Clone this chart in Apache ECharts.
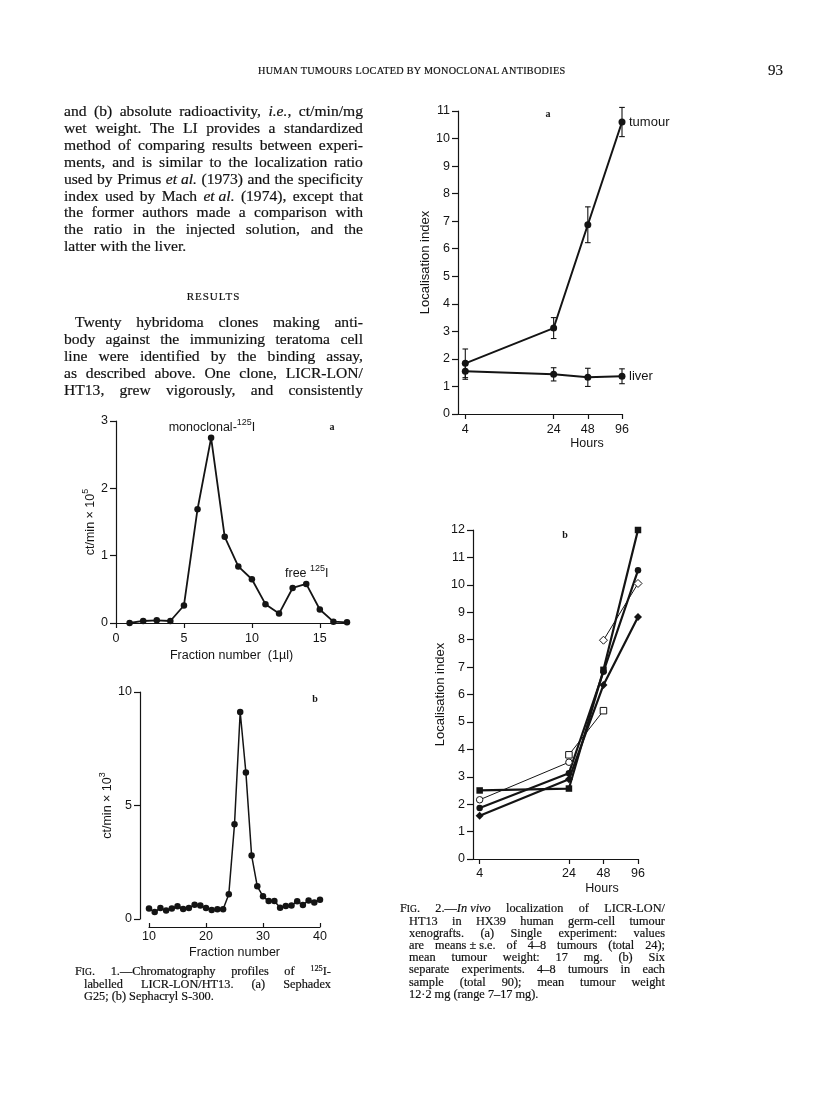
<!DOCTYPE html>
<html><head><meta charset="utf-8">
<script src="https://cdn.jsdelivr.net/npm/echarts@6/dist/echarts.min.js"></script>
<style>
html,body{margin:0;padding:0;background:#fff;}
#page{position:relative;width:816px;height:1115px;overflow:hidden;background:#fff;}
#chart{position:absolute;left:0;top:0;width:816px;height:1115px;}
.t{position:absolute;font-family:"Liberation Serif","Times New Roman",serif;color:#111;-webkit-text-stroke:0.2px #111;}
.ln{white-space:nowrap;}
.fl{display:flex;justify-content:space-between;}
.body{left:64px;width:299px;font-size:15.6px;line-height:16.9px;}
.cap{font-size:12.3px;line-height:12.1px;}
small{font-size:0.78em;}
sup{font-size:0.68em;line-height:0;vertical-align:0.45em;}
</style></head>
<body>
<div id="page">
<div id="chart"></div>
<div class="t" style="left:258px;top:65px;font-size:10.2px;letter-spacing:0.3px;">HUMAN TUMOURS LOCATED BY MONOCLONAL ANTIBODIES</div>
<div class="t" style="left:768px;top:62px;font-size:15px;">93</div>
<div class="t body" id="p1" style="top:103px;"></div>
<div class="t" style="left:64px;width:299px;top:290px;text-align:center;font-size:11px;letter-spacing:1px;">RESULTS</div>
<div class="t body" id="p2" style="top:314px;"></div>
<div class="t cap" id="c1" style="left:75px;width:256px;top:965px;"></div>
<div class="t cap" id="c2" style="left:400px;width:265px;top:902px;"></div>
</div>
<script>
// ---------- data ----------
const fractionsA = [1,2,3,4,5,6,7,8,9,10,11,12,13,14,15,16,17];
const countsA = [0.00,0.03,0.04,0.03,0.26,1.69,2.75,1.28,0.84,0.65,0.28,0.14,0.52,0.58,0.20,0.02,0.01];
const fractionsB = [10,11,12,13,14,15,16,17,18,19,20,21,22,23,24,25,26,27,28,29,30,31,32,33,34,35,36,37,38,39,40];
const countsB = [0.46,0.31,0.48,0.37,0.46,0.56,0.44,0.48,0.63,0.59,0.48,0.40,0.43,0.43,1.09,4.17,9.12,6.45,2.80,1.44,1.00,0.79,0.79,0.50,0.57,0.60,0.78,0.62,0.82,0.73,0.85];
const hours = [4,24,48,96];
const tumourMean = [1.84,3.12,6.87,10.60];
const tumourErr = [0.52,0.38,0.65,0.53];
const liverMean = [1.55,1.44,1.33,1.37];
const liverErr = [0.29,0.24,0.33,0.27];
const expFilledSquare = [2.50,2.57,6.90,12.00];
const expFilledCircle = [1.86,3.13,6.83,10.53];
const expFilledDiamond = [1.58,2.91,6.35,8.83];
const expOpenCircle = [2.16,3.53,null,null];
const expOpenSquare = [null,3.80,5.41,null];
const expOpenDiamond = [null,null,7.98,10.05];
const fractionTicksA = [0,5,10,15];

// ---------- text ----------
const para1 = [
 "and (b) absolute radioactivity, <i>i.e.</i>, ct/min/mg",
 "wet weight. The LI provides a standardized",
 "method of comparing results between experi-",
 "ments, and is similar to the localization ratio",
 "used by Primus <i>et&nbsp;al.</i> (1973) and the specificity",
 "index used by Mach <i>et&nbsp;al.</i> (1974), except that",
 "the former authors made a comparison with",
 "the ratio in the injected solution, and the",
 "latter with the liver."
];
const para2 = [
 "Twenty hybridoma clones making anti-",
 "body against the immunizing teratoma cell",
 "line were identified by the binding assay,",
 "as described above. One clone, LICR-LON/",
 "HT13, grew vigorously, and consistently"
];
const cap1 = [
 "F<small>IG</small>. 1.—Chromatography profiles of <sup>125</sup>I-",
 "labelled LICR-LON/HT13. (a) Sephadex",
 "G25; (b) Sephacryl S-300."
];
const cap2 = [
 "F<small>IG</small>. 2.—<i>In&nbsp;vivo</i> localization of LICR-LON/",
 "HT13 in HX39 human germ-cell tumour",
 "xenografts. (a) Single experiment: values",
 "are means&nbsp;±&nbsp;s.e. of 4–8 tumours (total 24);",
 "mean tumour weight: 17 mg. (b) Six",
 "separate experiments. 4–8 tumours in each",
 "sample (total 90); mean tumour weight",
 "12·2 mg (range 7–17 mg)."
];
function fill(id, lines, lastJustify, indentFirst, indentRest){
  const box = document.getElementById(id);
  lines.forEach((l,i)=>{
    const d = document.createElement('div');
    d.className = 'ln';
    const ind = i===0 ? (indentFirst||0) : (indentRest||0);
    d.style.marginLeft = ind+'px';
    const just = (i < lines.length-1) || lastJustify;
    if (just){
      d.classList.add('fl');
      l.split(' ').forEach(w=>{const s=document.createElement('span'); s.innerHTML=w; d.appendChild(s);});
    } else d.innerHTML = l;
    box.appendChild(d);
  });
}
fill('p1', para1, false, 0, 0);
fill('p2', para2, true, 11, 0);
fill('c1', cap1, false, 0, 9);
fill('c2', cap2, false, 0, 9);

// ---------- chart ----------
const ink = '#141414';
const sans = 'Liberation Sans, Arial, sans-serif';
const serif = 'Liberation Serif, serif';
function axisCommon(extra){
  const base = {
    axisLine:{show:true,onZero:false,lineStyle:{color:ink,width:1.2}},
    axisTick:{show:true,inside:false,length:5,lineStyle:{color:ink,width:1.2}},
    axisLabel:{color:ink,fontFamily:sans,fontSize:12.5,margin:8},
    splitLine:{show:false},
    minorTick:{show:false},
    nameTextStyle:{color:ink,fontFamily:sans,fontSize:12.5}
  };
  for (const k in extra){
    if (base[k] && typeof base[k]==='object' && !Array.isArray(base[k])) base[k] = Object.assign({}, base[k], extra[k]);
    else base[k] = extra[k];
  }
  return base;
}
const supRich = {
  n:{color:ink,fill:ink,fontFamily:sans,fontSize:12.5,lineHeight:16,verticalAlign:'bottom'},
  s:{color:ink,fill:ink,fontFamily:sans,fontSize:9,lineHeight:10,verticalAlign:'top'}
};
const zip = (xs, ys) => xs.map((x,i)=>[x, ys[i]]).filter(d=>d[1]!==null);
const errData = (m, e) => hours.map((h,i)=>[h, m[i]-e[i], m[i]+e[i]]);
function renderErr(params, api){
  const x = api.value(0), lo = api.value(1), hi = api.value(2);
  const p1 = api.coord([x, hi]), p2 = api.coord([x, lo]);
  const w = 2.8, st = {stroke:ink, lineWidth:1.1};
  return {type:'group', children:[
    {type:'line', shape:{x1:p1[0],y1:p1[1],x2:p2[0],y2:p2[1]}, style:st},
    {type:'line', shape:{x1:p1[0]-w,y1:p1[1],x2:p1[0]+w,y2:p1[1]}, style:st},
    {type:'line', shape:{x1:p2[0]-w,y1:p2[1],x2:p2[0]+w,y2:p2[1]}, style:st}
  ]};
}
function lineSeries(xi, data, symbol, size, width, open, extra){
  return Object.assign({
    type:'line', xAxisIndex:xi, yAxisIndex:xi, data:data,
    symbol:symbol, symbolSize:size, showSymbol:true,
    lineStyle:{color:ink,width:width},
    itemStyle:{color: open ? '#fff' : ink, borderColor:ink, borderWidth: open ? 1 : 0},
    emphasis:{disabled:true}, z: open ? 4 : 3
  }, extra||{});
}

const option = {
  animation:false,
  grid:[
    {left:116, top:421, width:231, height:202, containLabel:false, outerBoundsMode:'none'},
    {left:149, top:692, width:171, height:227, containLabel:false, outerBoundsMode:'none'},
    {left:458, top:111, width:164, height:303, containLabel:false, outerBoundsMode:'none'},
    {left:473, top:530, width:165, height:329, containLabel:false, outerBoundsMode:'none'}
  ],
  xAxis:[
    axisCommon({gridIndex:0,type:'value',min:0,max:17,
      axisTick:{customValues:fractionTicksA}, axisLabel:{customValues:fractionTicksA,margin:9},
      name:'Fraction number  (1µl)',nameLocation:'middle',nameGap:26}),
    axisCommon({gridIndex:1,type:'value',min:10,max:40,interval:10,offset:8,
      axisTick:{inside:true,length:4}, axisLabel:{margin:3},
      name:'Fraction number',nameLocation:'middle',nameGap:19}),
    axisCommon({gridIndex:2,type:'log',logBase:10,min:3.45,max:96,
      axisTick:{customValues:hours,length:5}, axisLabel:{customValues:hours,margin:9}}),
    axisCommon({gridIndex:3,type:'log',logBase:10,min:3.5,max:96,
      axisTick:{customValues:hours,length:5}, axisLabel:{customValues:hours,margin:8}})
  ],
  yAxis:[
    axisCommon({gridIndex:0,type:'value',min:0,max:3,interval:1,axisTick:{length:6},
      name:'{n|ct/min × 10}{s|5}',nameLocation:'middle',nameGap:15,
      nameTextStyle:{rich:supRich}}),
    axisCommon({gridIndex:1,type:'value',min:0,max:10,interval:5,offset:9,axisTick:{length:6},
      name:'{n|ct/min × 10}{s|3}',nameLocation:'middle',nameGap:24,
      nameTextStyle:{rich:supRich}}),
    axisCommon({gridIndex:2,type:'value',min:0,max:11,interval:1,axisTick:{length:6},
      axisLabel:{margin:8},
      name:'Localisation index',nameLocation:'middle',nameGap:19,nameTextStyle:{fontSize:13}}),
    axisCommon({gridIndex:3,type:'value',min:0,max:12,interval:1,axisTick:{length:6},
      axisLabel:{margin:8},
      name:'Localisation index',nameLocation:'middle',nameGap:19,nameTextStyle:{fontSize:13}})
  ],
  series:[
    lineSeries(0, zip(fractionsA, countsA), 'circle', 6.5, 1.8, false),
    lineSeries(1, zip(fractionsB, countsB), 'circle', 6.5, 1.5, false),
    {type:'custom', xAxisIndex:2, yAxisIndex:2, data:errData(tumourMean,tumourErr), renderItem:renderErr, encode:{x:0,y:[1,2]}, z:2},
    {type:'custom', xAxisIndex:2, yAxisIndex:2, data:errData(liverMean,liverErr), renderItem:renderErr, encode:{x:0,y:[1,2]}, z:2},
    lineSeries(2, zip(hours, tumourMean), 'circle', 7, 2, false,
      {endLabel:{show:true,formatter:'tumour',distance:7,color:ink,fontFamily:sans,fontSize:13}}),
    lineSeries(2, zip(hours, liverMean), 'circle', 7, 2, false,
      {endLabel:{show:true,formatter:'liver',distance:7,color:ink,fontFamily:sans,fontSize:13}}),
    lineSeries(3, zip(hours, expFilledSquare), 'rect', 6.5, 2.2, false),
    lineSeries(3, zip(hours, expFilledDiamond), 'diamond', 8, 2.2, false),
    lineSeries(3, zip(hours, expFilledCircle), 'circle', 6.5, 2.2, false),
    lineSeries(3, zip(hours, expOpenCircle), 'circle', 6.5, 1, true),
    lineSeries(3, zip(hours, expOpenSquare), 'rect', 6.5, 1, true),
    lineSeries(3, zip(hours, expOpenDiamond), 'diamond', 8, 1, true)
  ],
  graphic:[
    {type:'text', x:212, y:426, style:{text:'{n|monoclonal-}{s|125}{n|I}', align:'center', verticalAlign:'middle', rich:supRich, fill:ink}},
    {type:'text', x:285, y:572, style:{text:'{n|free }{s|125}{n|I}', align:'left', verticalAlign:'middle', rich:supRich, fill:ink}},
    {type:'text', x:332, y:427, style:{text:'a', font:'bold 10px '+serif, fill:ink, align:'center', verticalAlign:'middle'}},
    {type:'text', x:315, y:699, style:{text:'b', font:'bold 10px '+serif, fill:ink, align:'center', verticalAlign:'middle'}},
    {type:'text', x:548, y:114, style:{text:'a', font:'bold 10px '+serif, fill:ink, align:'center', verticalAlign:'middle'}},
    {type:'text', x:565, y:535, style:{text:'b', font:'bold 10px '+serif, fill:ink, align:'center', verticalAlign:'middle'}},
    {type:'text', x:587, y:444, style:{text:'Hours', font:'12.5px '+sans, fill:ink, align:'center', verticalAlign:'middle'}},
    {type:'text', x:602, y:889, style:{text:'Hours', font:'12.5px '+sans, fill:ink, align:'center', verticalAlign:'middle'}}
  ]
};
const chart = echarts.init(document.getElementById('chart'), null, {renderer:'canvas'});
chart.setOption(option);
</script>
</body></html>
